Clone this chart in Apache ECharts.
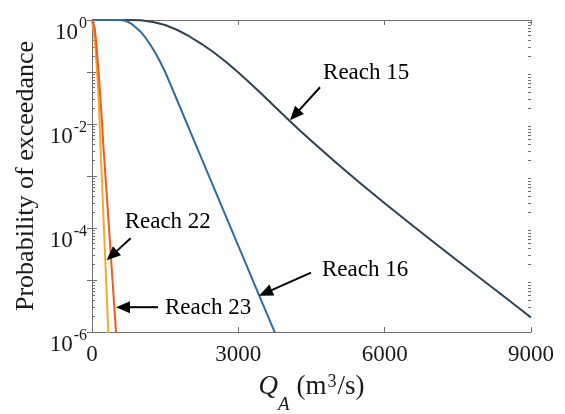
<!DOCTYPE html>
<html lang="en">
  <head>
    <meta charset="UTF-8" />
    <title>Probability of exceedance</title>
    <script src="https://cdn.jsdelivr.net/npm/echarts@6/dist/echarts.min.js"></script>
    <style>
      html, body { margin: 0; padding: 0; background: #fff; }
      #main { width: 565px; height: 414px; }
    </style>
  </head>
  <body>
    <div id="main"></div>
    <script>
      // Q_A (m3/s) against probability of exceedance
      const reach15Q = [0, 750, 1000, 1250, 1500, 1750, 2000, 2250, 2500, 2750, 3000, 3250, 3500, 3750, 4000, 4250, 4500, 5000, 5500, 6000, 6500, 7000, 7500, 8000, 8500, 9000];
      const reach15P = [1, 1, 0.991, 0.915, 0.8, 0.642, 0.482, 0.345, 0.237, 0.156, 0.0978, 0.0601, 0.0361, 0.0215, 0.0128, 0.00767, 0.00469, 0.00181, 7.27e-4, 3.0e-4, 1.26e-4, 5.38e-5, 2.32e-5, 1.01e-5, 4.41e-6, 1.9e-6];

      const reach16Q = [0, 550, 600, 700, 800, 900, 1000, 1100, 1200, 1300, 1400, 1500, 1600, 1700, 1800, 1900, 2000, 2500, 3000, 3500, 3730, 3800];
      const reach16P = [1, 1, 0.998, 0.957, 0.856, 0.717, 0.588, 0.451, 0.331, 0.232, 0.156, 0.1, 0.0604, 0.0361, 0.0216, 0.0129, 0.00773, 5.93e-4, 4.55e-5, 3.49e-6, 1.07e-6, 7.5e-7];

      const reach22Q = [0, 10, 27, 45, 68, 90, 117, 150, 174, 244, 290, 334, 345];
      const reach22P = [1, 0.95, 0.7, 0.48, 0.29, 0.15, 0.064, 0.015, 0.004, 1e-4, 1e-5, 1e-6, 6e-7];

      const reach23Q = [0, 20, 55, 75, 96, 120, 150, 195, 232, 349, 420, 492, 505];
      const reach23P = [1, 0.95, 0.7, 0.48, 0.29, 0.15, 0.064, 0.015, 0.004, 1e-4, 1e-5, 1e-6, 6e-7];

      const xTicks = [0, 3000, 6000, 9000];
      const yMajorTicks = [1e-6, 1e-5, 1e-4, 1e-3, 1e-2, 1e-1, 1];
      const yLabelTicks = [1e-6, 1e-4, 1e-2, 1];
      const minorSteps = [2, 3, 4, 5, 6, 7, 8, 9];

      // tip in data units, tail and text offsets in pixels from the tip
      const annotations = [
        { text: "Reach 15", tip: [4060, 0.0118], tail: [30, -33], label: [33, -47] },
        { text: "Reach 16", tip: [3424, 5e-6], tail: [52, -23], label: [63, -26] },
        { text: "Reach 22", tip: [300, 2.4e-5], tail: [24, -22], label: [18, -38] },
        { text: "Reach 23", tip: [492, 3e-6], tail: [42, 0], label: [49, 1] },
      ];

      const font = "Liberation Serif";
      const axisColor = "#707070";
      const textColor = "#1a1a1a";

      let yMinorTicks = [];
      yMajorTicks.slice(0, -1).forEach((d) => {
        minorSteps.forEach((m) => yMinorTicks.push(+(d * m).toPrecision(3)));
      });

      function pairs(qs, ps) {
        return qs.map((q, i) => [q, ps[i]]);
      }

      function lineSeries(name, qs, ps, color) {
        return {
          name: name,
          type: "line",
          data: pairs(qs, ps),
          showSymbol: false,
          smooth: false,
          lineStyle: { color: color, width: 2, join: "round" },
          xAxisIndex: 0,
          yAxisIndex: 0,
        };
      }

      function yAxisBase(position, ticks, len, withLine) {
        return {
          type: "log",
          logBase: 10,
          min: 1e-6,
          max: 1,
          position: position,
          splitLine: { show: false },
          axisLine: { show: withLine, lineStyle: { color: axisColor, width: 1 } },
          axisTick: {
            show: true,
            inside: true,
            length: len,
            customValues: ticks,
            lineStyle: { color: axisColor },
          },
          axisLabel: { show: false },
        };
      }

      let myChart = echarts.init(document.getElementById("main"));

      let leftAxis = yAxisBase("left", yMajorTicks, 5, true);
      leftAxis.axisLabel = {
        show: true,
        customValues: yLabelTicks,
        margin: 5,
        formatter: function (v) {
          return "{b|10}{s|" + Math.round(Math.log10(v)) + "}";
        },
        rich: {
          b: { fontFamily: font, fontSize: 23, color: textColor, lineHeight: 22, padding: [12, 0, 0, 0], verticalAlign: "top" },
          s: { fontFamily: font, fontSize: 16, color: textColor, lineHeight: 14, padding: [7, 0, 0, 1], verticalAlign: "top" },
        },
      };
      leftAxis.name = "Probability of exceedance";
      leftAxis.nameLocation = "middle";
      leftAxis.nameGap = 52;
      leftAxis.nameTextStyle = { fontFamily: font, fontSize: 26, color: textColor };

      let options = {
        animation: false,
        backgroundColor: "#fff",
        grid: {
          left: 92,
          top: 20,
          width: 439,
          height: 312,
          containLabel: false,
          outerBoundsMode: "none",
        },
        xAxis: [
          {
            type: "value",
            min: 0,
            max: 9000,
            interval: 3000,
            position: "bottom",
            splitLine: { show: false },
            axisLine: { lineStyle: { color: axisColor, width: 1 } },
            axisTick: { inside: true, length: 5, lineStyle: { color: axisColor } },
            axisLabel: {
              margin: 11,
              fontFamily: font,
              fontSize: 23,
              color: textColor,
              customValues: xTicks,
              formatter: (v) => String(v),
            },
            name: "{q|Q}{a|A}{t| (m}{s|3}{t|/s)}",
            nameLocation: "middle",
            nameGap: 41,
            nameTextStyle: {
              rich: {
                q: { fontFamily: font, fontStyle: "italic", fontSize: 27, color: textColor, lineHeight: 30, verticalAlign: "top" },
                a: { fontFamily: font, fontStyle: "italic", fontSize: 19, color: textColor, lineHeight: 18, padding: [22, 0, 0, 0], verticalAlign: "top" },
                t: { fontFamily: font, fontSize: 27, color: textColor, lineHeight: 30, verticalAlign: "top" },
                s: { fontFamily: font, fontSize: 18, color: textColor, lineHeight: 18, padding: [0, 1, 0, 1], verticalAlign: "top" },
              },
            },
          },
          {
            type: "value",
            min: 0,
            max: 9000,
            interval: 3000,
            position: "top",
            splitLine: { show: false },
            axisLine: { lineStyle: { color: axisColor, width: 1 } },
            axisTick: { inside: true, length: 5, lineStyle: { color: axisColor } },
            axisLabel: { show: false },
          },
        ],
        yAxis: [
          leftAxis,
          yAxisBase("right", yMajorTicks, 5, true),
          yAxisBase("left", yMinorTicks, 3, false),
          yAxisBase("right", yMinorTicks, 3, false),
        ],
        series: [
          lineSeries("Reach 15", reach15Q, reach15P, "#2b4257"),
          lineSeries("Reach 16", reach16Q, reach16P, "#2f6c9d"),
          lineSeries("Reach 22", reach22Q, reach22P, "#f2ac2a"),
          lineSeries("Reach 23", reach23Q, reach23P, "#ee5a22"),
        ],
      };

      myChart.setOption(options);

      // arrows and labels placed from data coordinates
      let graphics = [];
      annotations.forEach((a) => {
        let tip = myChart.convertToPixel({ gridIndex: 0 }, a.tip);
        let tail = [tip[0] + a.tail[0], tip[1] + a.tail[1]];
        let dx = tip[0] - tail[0];
        let dy = tip[1] - tail[1];
        let len = Math.sqrt(dx * dx + dy * dy);
        let ux = dx / len;
        let uy = dy / len;
        let headLen = 14;
        let halfW = 6;
        let bx = tip[0] - ux * headLen;
        let by = tip[1] - uy * headLen;
        graphics.push({
          type: "line",
          shape: { x1: tail[0], y1: tail[1], x2: bx + ux * 2, y2: by + uy * 2 },
          style: { stroke: "#000", lineWidth: 2 },
          z: 100,
        });
        graphics.push({
          type: "polygon",
          shape: {
            points: [
              [tip[0], tip[1]],
              [bx - uy * halfW, by + ux * halfW],
              [bx + uy * halfW, by - ux * halfW],
            ],
          },
          style: { fill: "#000" },
          z: 100,
        });
        graphics.push({
          type: "text",
          x: tip[0] + a.label[0],
          y: tip[1] + a.label[1],
          style: {
            text: a.text,
            fontFamily: font,
            fontSize: 23,
            fill: "#000",
            align: "left",
            verticalAlign: "middle",
          },
          z: 100,
        });
      });

      myChart.setOption({ graphic: graphics });
    </script>
  </body>
</html>
